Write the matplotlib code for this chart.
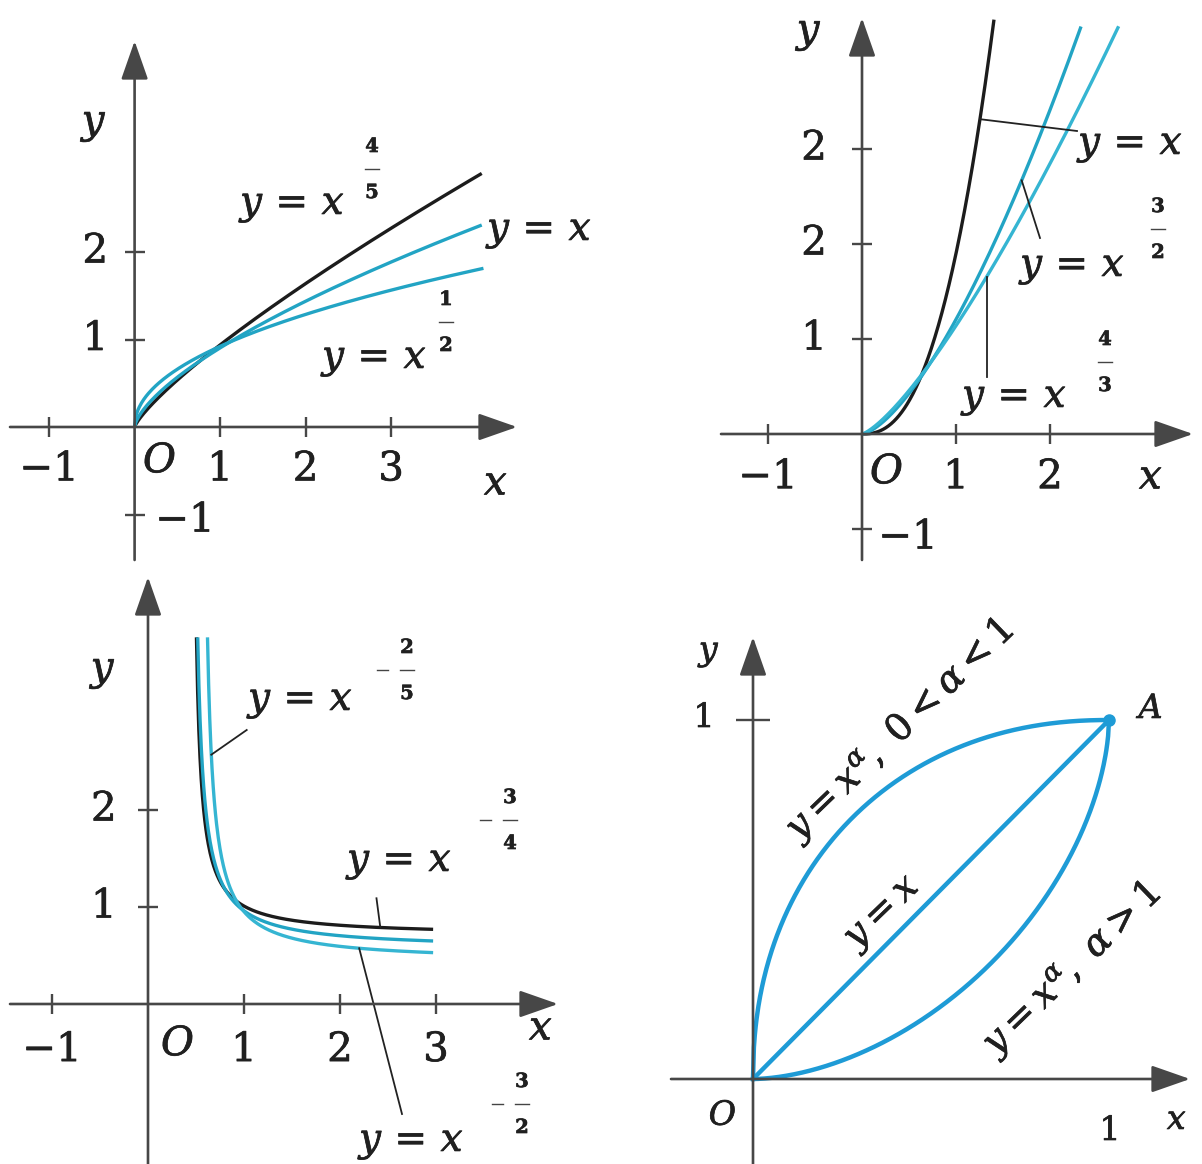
import numpy as np
import matplotlib.pyplot as plt
import matplotlib.patheffects as pe

plt.rcParams['font.family'] = 'DejaVu Serif'
plt.rcParams['mathtext.fontset'] = 'dejavuserif'

W, H = 1202, 1164
AXIS = '#474747'
INK = '#202020'
BLACK = '#1c1c1c'
TEAL = '#22a4c4'
CYAN = '#35b5d2'
SKY = '#1e9bd6'
FS = 29      # tick labels
MS = 28      # formula labels
BOLD = [pe.withStroke(linewidth=0.5, foreground=INK)]

# ---- panel 1 : y = k * x**a
p1_k = [0.938, 0.904, 0.922]
p1_a = [0.805, 0.669, 0.481]
p1_xmax = [4.06, 4.06, 4.08]
p1_colors = [BLACK, TEAL, TEAL]
p1_xticks = [-1, 1, 2, 3]
p1_xlabels = ['−1', '1', '2', '3']
p1_yticks = [1, 2]
p1_ylabels = ['1', '2']
p1_exps = [('4', '5'), None, ('1', '2')]

# ---- panel 2 : y = k * x**a
p2_k = [1.90, 1.206, 1.14]
p2_a = [2.449, 1.5, 1.32]
p2_xmax = [1.404, 2.33, 2.73]
p2_colors = [BLACK, TEAL, CYAN]
p2_xticks = [-1, 1, 2]
p2_xlabels = ['−1', '1', '2']
p2_yticks = [1, 2, 3]
p2_ylabels = ['1', '2', '2']
p2_exps = [None, ('3', '2'), ('4', '3')]

# ---- panel 3 : y = c + k / (x - x0)
p3_c = [0.703, 0.563, 0.433]
p3_k = [0.1685, 0.2185, 0.2335]
p3_x0 = [0.45, 0.45, 0.55]
p3_top = 3.78
p3_xmax = 2.97
p3_colors = [BLACK, TEAL, CYAN]
p3_xticks = [-1, 1, 2, 3]
p3_xlabels = ['−1', '1', '2', '3']
p3_yticks = [1, 2]
p3_ylabels = ['1', '2']
p3_exps = [('2', '5'), ('3', '4'), ('3', '2')]

# ---- panel 4 : upper / lower shape exponents, plus y = x
p4_upper = 2.15
p4_lower = 1.75
p4_texts = [r'$y=x^{\alpha},\ 0<\alpha<1$', r'$y=x$', r'$y=x^{\alpha},\ \alpha>1$']

fig = plt.figure(figsize=(W / 100, H / 100), dpi=100)


def panel(box, origin, unit):
    x0, y0, x1, y1 = box
    ox, oy = origin
    ux, uy = unit
    ax = fig.add_axes([x0 / W, 1 - y1 / H, (x1 - x0) / W, (y1 - y0) / H])
    ax.set_xlim((x0 - ox) / ux, (x1 - ox) / ux)
    ax.set_ylim((oy - y1) / uy, (oy - y0) / uy)
    ax.set_axis_off()
    ax.px = lambda px, py: ((px - ox) / ux, (oy - py) / uy)
    return ax


def arrows(ax, left, right, bottom, top):
    a, _ = ax.px(left, 0)
    b, _ = ax.px(right, 0)
    _, c = ax.px(0, bottom)
    _, d = ax.px(0, top)
    st = dict(arrowstyle='-|>,head_length=1.2,head_width=0.42', mutation_scale=20,
              lw=1.9, color=AXIS, shrinkA=0, shrinkB=0)
    ax.annotate('', xy=(b, 0), xytext=(a, 0), arrowprops=st)
    ax.annotate('', xy=(0, d), xytext=(0, c), arrowprops=st)


def ticks(ax, xt, yt, ms=14):
    ax.plot(xt, np.zeros(len(xt)), ls='', marker='|', ms=ms, mew=1.7, color=AXIS)
    ax.plot(np.zeros(len(yt)), yt, ls='', marker='_', ms=ms, mew=1.7, color=AXIS)


def txt(ax, px, py, s, size=FS, **kw):
    x, y = ax.px(px, py)
    kw.setdefault('ha', 'center')
    kw.setdefault('va', 'center')
    ax.text(x, y, s, fontsize=size, color=INK, path_effects=BOLD, **kw)


def ticklabels(ax, xt, xl, xoff, yt, yl, yoff):
    for t, lab in zip(xt, xl):
        ax.text(t, xoff, lab, fontsize=FS, ha='center', va='center', color=INK,
                path_effects=BOLD)
    for t, lab in zip(yt, yl):
        ax.text(yoff, t, lab, fontsize=FS, ha='center', va='center', color=INK,
                path_effects=BOLD)


def seg(ax, p, q, lw=1.0, color='#444444'):
    a = ax.px(*p)
    b = ax.px(*q)
    ax.plot([a[0], b[0]], [a[1], b[1]], color=color, lw=lw)


def frac(ax, px, py, nd, minus=False, size=14):
    txt(ax, px, py - 22, nd[0], size, fontweight='bold')
    txt(ax, px, py + 24, nd[1], size, fontweight='bold')
    seg(ax, (px - 7, py), (px + 7, py))
    if minus:
        seg(ax, (px - 30, py), (px - 19, py))


def formula(ax, px, py, exp, fpos, minus=False):
    txt(ax, px, py, r'$y\,=\,x$', MS, ha='left', va='baseline')
    if exp is not None:
        frac(ax, fpos[0], fpos[1], exp, minus)


def leader(ax, p, q):
    ax.plot([p[0], q[0]], [p[1], q[1]], color='#222222', lw=1.3)


# ================= panel 1
ax1 = panel((0, 0, 601, 560), (134.6, 427), (85.5, 87.5))
arrows(ax1, 10, 517, 560, 41)
ticks(ax1, p1_xticks, p1_yticks + [-1])
for k, a, xm, col in zip(p1_k, p1_a, p1_xmax, p1_colors):
    xs = np.linspace(0, xm, 300)
    ax1.plot(xs, k * xs ** a, color=col, lw=2.4, solid_capstyle='butt')
ticklabels(ax1, p1_xticks, p1_xlabels, -0.49, p1_yticks, p1_ylabels, -0.46)
txt(ax1, 185, 521, '−1')
txt(ax1, 160, 462, '$O$')
txt(ax1, 496, 484, '$x$')
txt(ax1, 95, 125, '$y$')
formula(ax1, 240, 214, p1_exps[0], (372, 169))
formula(ax1, 487, 240, p1_exps[1], None)
formula(ax1, 322, 368, p1_exps[2], (446, 322))

# ================= panel 2
ax2 = panel((601, 0, 1202, 560), (862, 434), (94, 95))
arrows(ax2, 721, 1193, 560, 18)
ticks(ax2, p2_xticks, p2_yticks + [-1])
for k, a, xm, col in zip(p2_k, p2_a, p2_xmax, p2_colors):
    xs = np.linspace(0, xm, 300)
    ax2.plot(xs, k * xs ** a, color=col, lw=2.4, solid_capstyle='butt')
ticklabels(ax2, p2_xticks, p2_xlabels, -0.46, p2_yticks, p2_ylabels, -0.51)
txt(ax2, 908, 538, '−1')
txt(ax2, 887, 473, '$O$')
txt(ax2, 1151, 478, '$x$')
txt(ax2, 810, 34, '$y$')
xb = 1.255
leader(ax2, (xb, p2_k[0] * xb ** p2_a[0]), ax2.px(1077, 131))
yb = 2.67
leader(ax2, ((yb / p2_k[1]) ** (1 / p2_a[1]), yb), ax2.px(1040, 238))
xc = 1.327
leader(ax2, (xc, p2_k[2] * xc ** p2_a[2]), (xc, ax2.px(0, 377)[1]))
formula(ax2, 1078, 154, p2_exps[0], None)
formula(ax2, 1020, 276, p2_exps[1], (1158, 229))
formula(ax2, 962, 407, p2_exps[2], (1105, 362))

# ================= panel 3
ax3 = panel((0, 560, 601, 1164), (148, 1004), (96, 97))
arrows(ax3, 10, 558, 1164, 577)
ticks(ax3, p3_xticks, p3_yticks)
for c, k, x0, col in zip(p3_c, p3_k, p3_x0, p3_colors):
    xs = np.linspace(x0 + k / (p3_top - c), p3_xmax, 400)
    ax3.plot(xs, c + k / (xs - x0), color=col, lw=2.4, solid_capstyle='butt')
ticklabels(ax3, p3_xticks, p3_xlabels, -0.48, p3_yticks, p3_ylabels, -0.46)
txt(ax3, 178, 1045, '$O$')
txt(ax3, 541, 1029, '$x$')
txt(ax3, 104, 672, '$y$')
yl = 2.57
leader(ax3, (p3_x0[2] + p3_k[2] / (yl - p3_c[2]), yl), ax3.px(246.7, 730))
xl = 2.42
leader(ax3, (xl, p3_c[0] + p3_k[0] / (xl - p3_x0[0])), (2.38, 1.09))
xl = 2.2
leader(ax3, (xl, p3_c[2] + p3_k[2] / (xl - p3_x0[2])), ax3.px(402, 1114))
formula(ax3, 248, 710, p3_exps[0], (407, 670), minus=True)
formula(ax3, 347, 871, p3_exps[1], (510, 820), minus=True)
formula(ax3, 359, 1151, p3_exps[2], (522, 1104), minus=True)

# ================= panel 4
ax4 = panel((601, 560, 1202, 1164), (753, 1079), (356, 359))
arrows(ax4, 671, 1190, 1164, 637)
ax4.plot([0], [1], ls='', marker='_', ms=25, mew=1.7, color=AXIS)
xs = np.linspace(0, 1, 400)
ax4.plot(xs, (1 - (1 - xs) ** p4_upper) ** (1 / p4_upper), color=SKY, lw=3.2)
ax4.plot(xs, xs, color=SKY, lw=3.2)
ax4.plot(xs, 1 - (1 - xs ** p4_lower) ** (1 / p4_lower), color=SKY, lw=3.2)
ax4.plot([1], [1], 'o', ms=8, color=SKY)
txt(ax4, 710, 653, '$y$', size=24)
txt(ax4, 704, 718, '1', size=24)
txt(ax4, 723, 1116, '$O$', size=24)
txt(ax4, 1110, 1131, '1', size=24)
txt(ax4, 1177, 1120, '$x$', size=24)
txt(ax4, 1152, 709, '$A$', size=24)
txt(ax4, 901, 730, p4_texts[0], size=27, rotation=44, rotation_mode='anchor')
txt(ax4, 884, 913, p4_texts[1], size=27, rotation=44, rotation_mode='anchor')
txt(ax4, 1073, 969, p4_texts[2], size=27, rotation=44, rotation_mode='anchor')

fig.savefig('out.png', dpi=100)
